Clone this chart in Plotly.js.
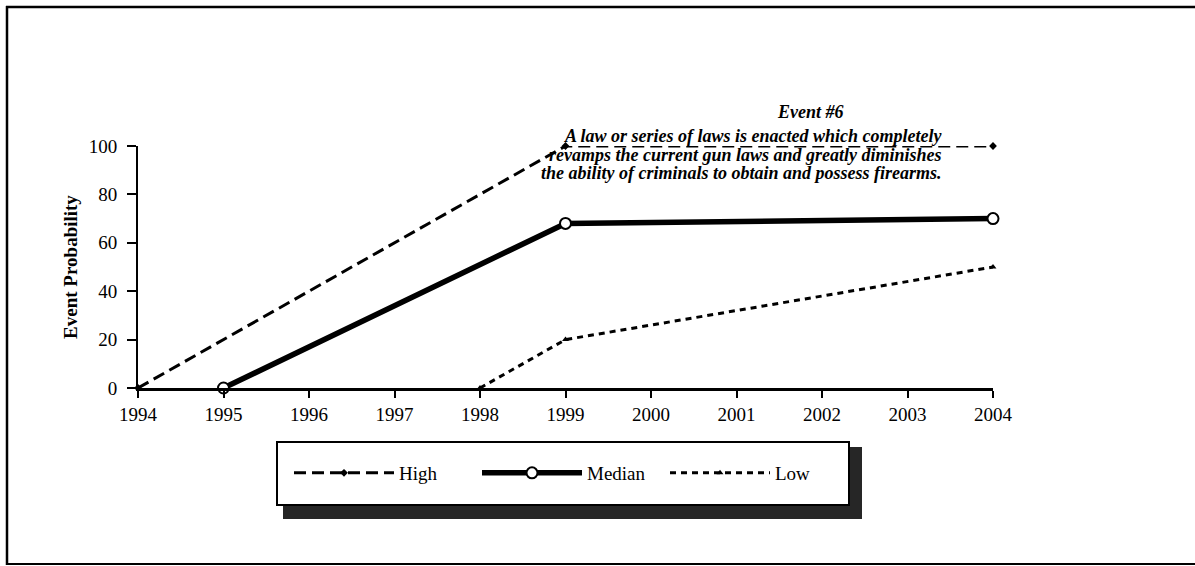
<!DOCTYPE html>
<html>
<head>
<meta charset="utf-8">
<script src="https://cdn.plot.ly/plotly-3.0.1.min.js"></script>
<style>
  html, body { margin: 0; padding: 0; background: #ffffff; }
  #chart { width: 1195px; height: 566px; }
</style>
</head>
<body>
<div id="chart"></div>
<script>
// ---- data ----
var years = [1994, 1995, 1996, 1997, 1998, 1999, 2000, 2001, 2002, 2003, 2004];
var yTicks = [0, 20, 40, 60, 80, 100];

var highYears = [1994, 1999, 2004];
var highValues = [0, 100, 100];

var medianYears = [1995, 1999, 2004];
var medianValues = [0, 68, 70];

var lowYears = [1998, 1999, 2004];
var lowValues = [0, 20, 50];

var seriesNames = ["High", "Median", "Low"];
var eventTitle = "Event #6";
var eventLines = [
  "A law or series of laws is enacted which completely",
  "revamps the current gun laws and greatly diminishes",
  "the ability of criminals to obtain and possess firearms."
];
var yTitle = "Event Probability";

// ---- layout geometry (pixels of the 1195x566 page) ----
var W = 1195, H = 566;
var L = 138, R = 993, T = 146, B = 388;
function px(x) { return (x - L) / (R - L); }
function py(y) { return (B - y) / (B - T); }

var serif = "'Liberation Serif', 'Times New Roman', serif";

var traces = [
  {
    x: highYears, y: highValues, name: seriesNames[0], type: "scatter", mode: "lines+markers",
    line: { color: "#000", width: 3, dash: "12px,6px" },
    marker: { symbol: "diamond", size: 6, color: "#000" },
    cliponaxis: false
  },
  {
    x: medianYears, y: medianValues, name: seriesNames[1], type: "scatter", mode: "lines+markers",
    line: { color: "#000", width: 5.5 },
    marker: { symbol: "circle", size: 11, color: "#fff", line: { color: "#000", width: 2 } },
    cliponaxis: false
  },
  {
    x: lowYears, y: lowValues, name: seriesNames[2], type: "scatter", mode: "lines+markers",
    line: { color: "#000", width: 3, dash: "6px,5px" },
    marker: { symbol: "triangle-up", size: 6, color: "#000" },
    cliponaxis: false
  }
];

var annotations = [
  {
    xref: "paper", yref: "paper", x: px(810), y: py(112), xanchor: "center", yanchor: "middle",
    text: "<b><i>" + eventTitle + "</i></b>", showarrow: false,
    font: { family: serif, size: 18, color: "#000" }
  }
];
var lineCenters = [753, 745, 741];
var lineYs = [136, 155, 173];
for (var i = 0; i < eventLines.length; i++) {
  annotations.push({
    xref: "paper", yref: "paper", x: px(lineCenters[i]), y: py(lineYs[i]),
    xanchor: "center", yanchor: "middle",
    text: "<b><i>" + eventLines[i] + "</i></b>", showarrow: false,
    font: { family: serif, size: 18, color: "#000" }
  });
}

var shapes = [
  // page frame (top, left, bottom)
  { type: "line", xref: "paper", yref: "paper", x0: px(6), x1: px(W), y0: py(7), y1: py(7), line: { color: "#000", width: 2.5 } },
  { type: "line", xref: "paper", yref: "paper", x0: px(7), x1: px(7), y0: py(6), y1: py(565), line: { color: "#000", width: 2.5 } },
  { type: "line", xref: "paper", yref: "paper", x0: px(6), x1: px(W), y0: py(564), y1: py(564), line: { color: "#000", width: 2 } },
  // legend shadow and box
  { type: "rect", xref: "paper", yref: "paper", x0: px(283), x1: px(862), y0: py(519), y1: py(447), fillcolor: "#262626", line: { width: 0 }, layer: "above" },
  { type: "rect", xref: "paper", yref: "paper", x0: px(277), x1: px(849), y0: py(505), y1: py(442), fillcolor: "#fff", line: { color: "#000", width: 2 }, layer: "above" }
];

var layout = {
  width: W, height: H,
  margin: { l: L, r: W - R, t: T, b: H - B, pad: 0 },
  paper_bgcolor: "#fff", plot_bgcolor: "rgba(0,0,0,0)",
  showlegend: true,
  legend: {
    orientation: "h", x: px(289), y: py(473), xanchor: "left", yanchor: "middle",
    bgcolor: "rgba(0,0,0,0)", borderwidth: 0,
    itemwidth: 100, entrywidth: 73, entrywidthmode: "pixels",
    font: { family: serif, size: 19, color: "#000" }
  },
  font: { family: serif, color: "#000" },
  xaxis: {
    range: [1994, 2004], tickmode: "array", tickvals: years, ticktext: years.map(String),
    showgrid: false, zeroline: false, showline: true, linecolor: "#000", linewidth: 2.5,
    ticks: "outside", ticklen: 7, tickwidth: 2, tickcolor: "#000", ticklabelstandoff: 1,
    tickfont: { family: serif, size: 19, color: "#000" }, fixedrange: true
  },
  xaxis2: {
    overlaying: "x", anchor: "y", side: "bottom", range: [1994, 2004],
    tickmode: "array", tickvals: years, showticklabels: false,
    showgrid: false, zeroline: false, showline: false,
    ticks: "inside", ticklen: 6, tickwidth: 2, tickcolor: "#000"
  },
  yaxis: {
    range: [0, 100], tickmode: "array", tickvals: yTicks, ticktext: yTicks.map(String),
    showgrid: false, zeroline: false, showline: true, linecolor: "#000", linewidth: 2,
    ticks: "outside", ticklen: 9, tickwidth: 2, tickcolor: "#000", ticklabelstandoff: 6,
    tickfont: { family: serif, size: 19, color: "#000" },
    title: { text: "<b>" + yTitle + "</b>", font: { family: serif, size: 19, color: "#000" }, standoff: 6 },
    fixedrange: true
  },
  yaxis2: {
    overlaying: "y", anchor: "x", side: "left", range: [0, 100],
    tickmode: "array", tickvals: yTicks, showticklabels: false,
    showgrid: false, zeroline: false, showline: false,
    ticks: "inside", ticklen: 5, tickwidth: 2, tickcolor: "#000"
  },
  annotations: annotations,
  shapes: shapes
};

Plotly.newPlot("chart", traces, layout, { staticPlot: true, displayModeBar: false });
</script>
</body>
</html>
